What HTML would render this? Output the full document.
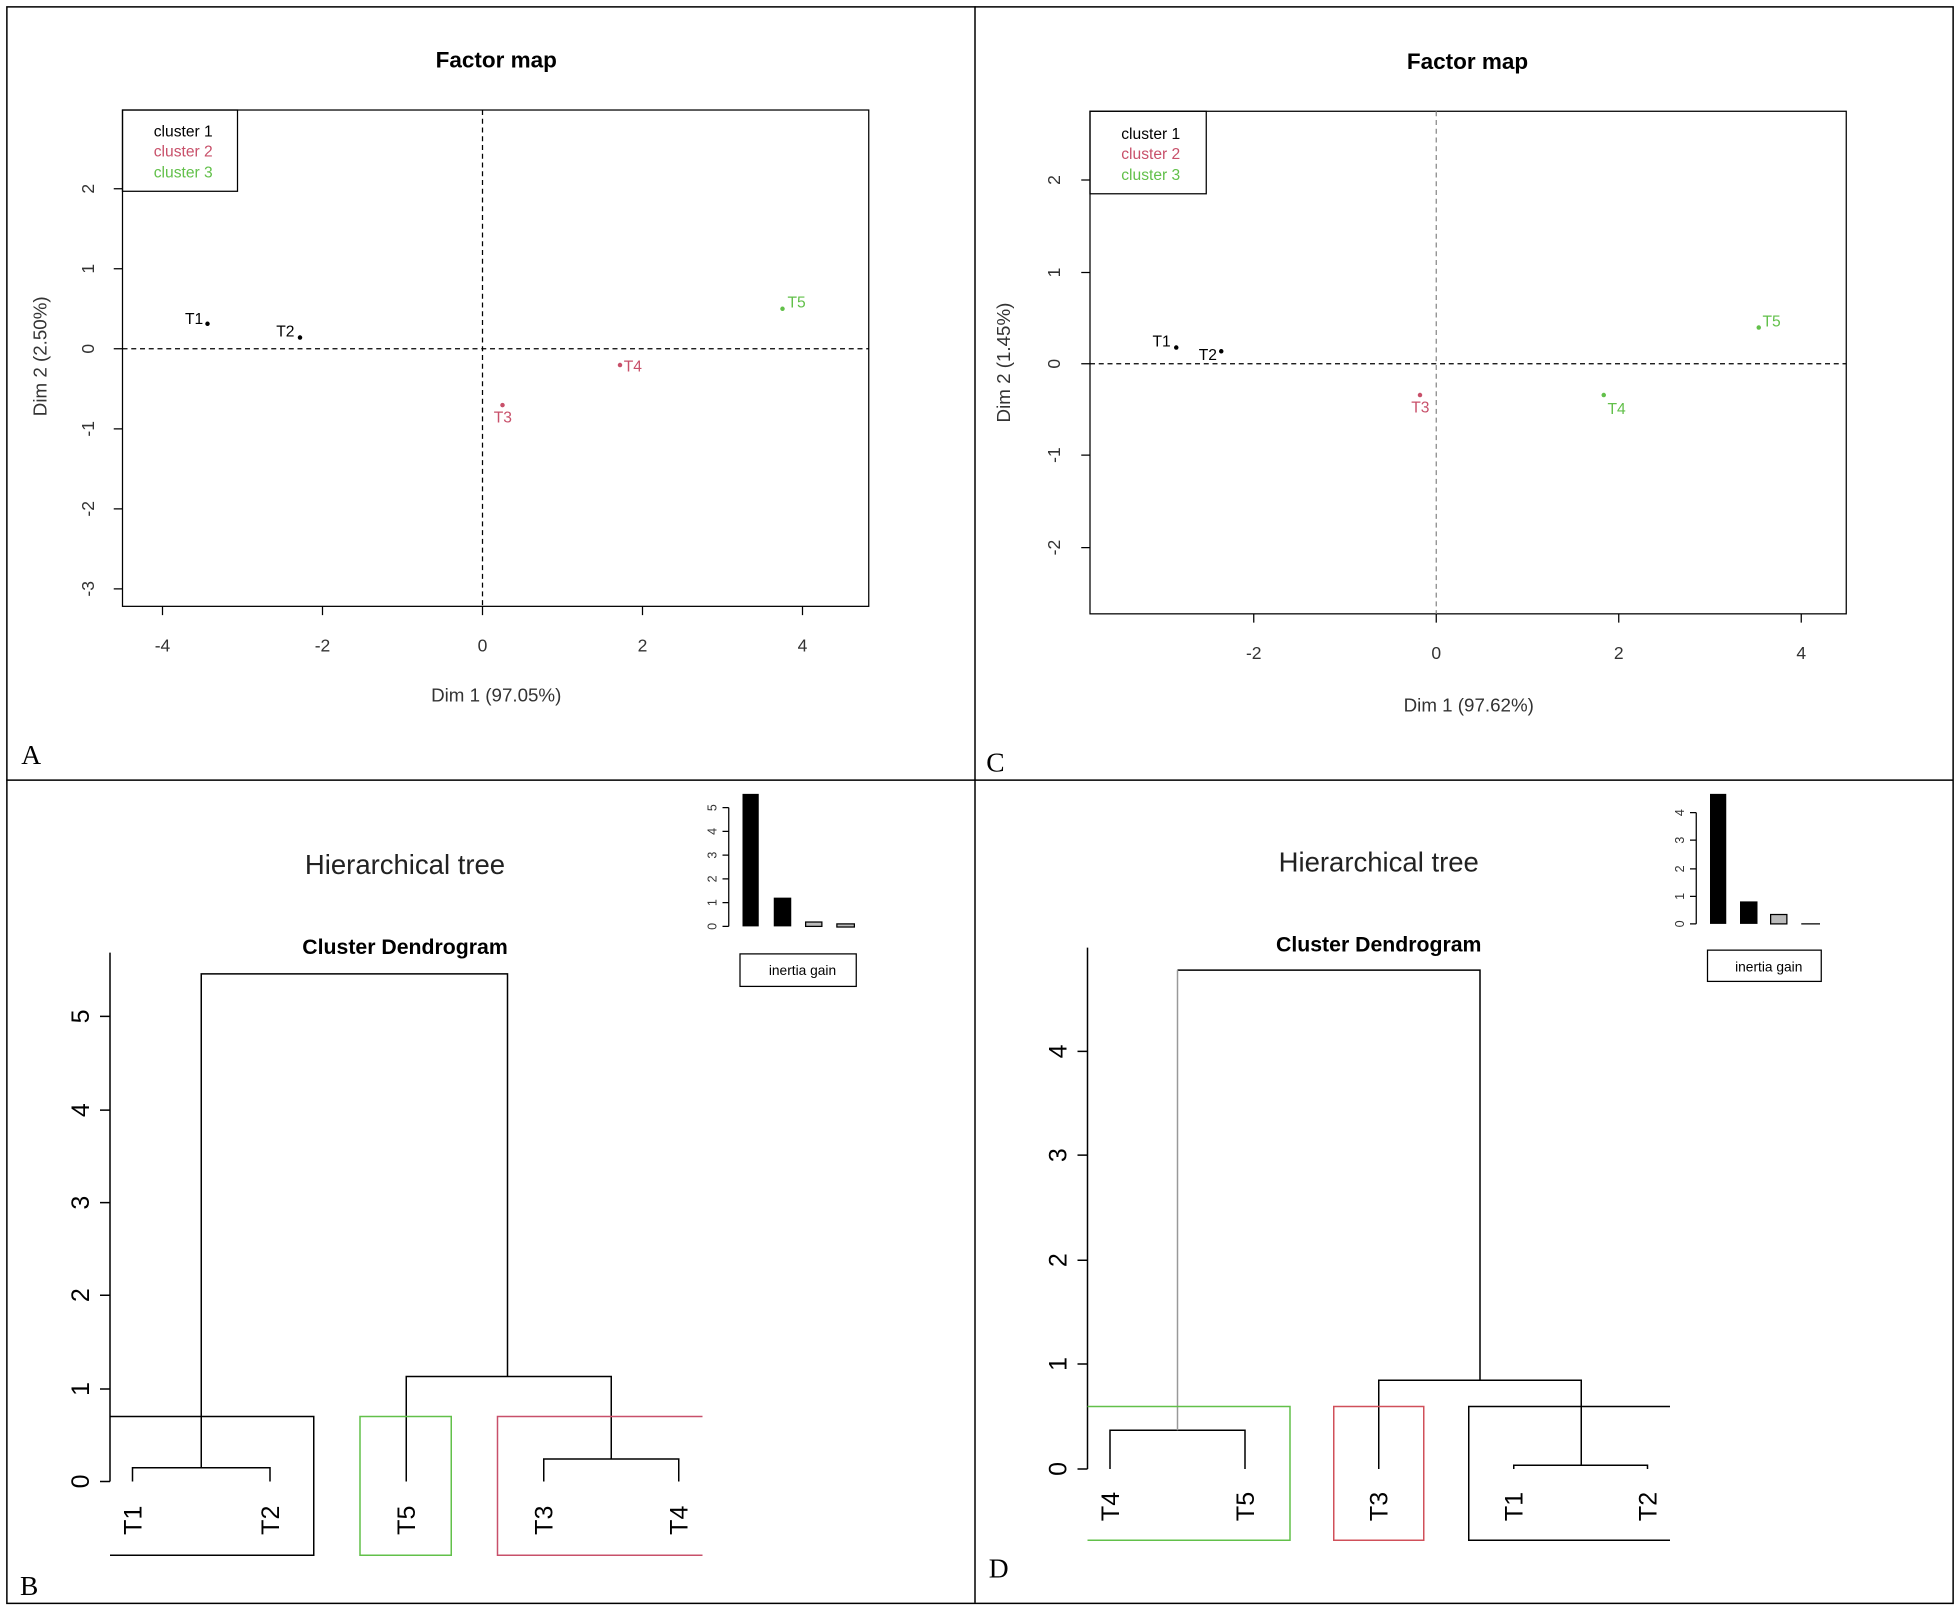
<!DOCTYPE html>
<html><head><style>html,body{margin:0;padding:0;background:#fff}svg{display:block}text{font-family:"Liberation Sans",sans-serif}</style></head>
<body>
<svg width="1960" height="1609" viewBox="0 0 1568 1287" preserveAspectRatio="none" xmlns="http://www.w3.org/2000/svg">
<rect x="0" y="0" width="1568" height="1287" fill="#fff"/>
<g fill="none" stroke="#000" stroke-width="1.2">
<rect x="5.5" y="5.5" width="1557" height="1277"/>
<line x1="780" y1="5" x2="780" y2="1282"/>
<line x1="5" y1="624" x2="1562" y2="624"/>
</g>
<g font-size="22">
<text x="17" y="611" style="font-family:'Liberation Serif',serif">A</text><text x="789" y="617" style="font-family:'Liberation Serif',serif">C</text><text x="16" y="1276" style="font-family:'Liberation Serif',serif">B</text><text x="791" y="1262" style="font-family:'Liberation Serif',serif">D</text>
</g>

<!-- Panel A -->
<g stroke="#000" fill="none" stroke-width="1">
<rect x="98" y="88" width="597" height="397"/>
<line x1="386" y1="88" x2="386" y2="485" stroke-dasharray="4,3"/>
<line x1="98" y1="279" x2="695" y2="279" stroke-dasharray="4,3"/>
<path d="M130 485v7M258 485v7M386 485v7M514 485v7M642 485v7M98 151h-7M98 215h-7M98 279h-7M98 343h-7M98 407h-7M98 471h-7"/>
<rect x="98" y="88" width="92" height="65"/>
</g>
<g font-size="14" fill="#333" text-anchor="middle">
<text x="130" y="521">-4</text><text x="258" y="521">-2</text><text x="386" y="521">0</text><text x="514" y="521">2</text><text x="642" y="521">4</text>
<text transform="translate(75 151) rotate(-90)">2</text><text transform="translate(75 215) rotate(-90)">1</text><text transform="translate(75 279) rotate(-90)">0</text><text transform="translate(75 343) rotate(-90)">-1</text><text transform="translate(75 407) rotate(-90)">-2</text><text transform="translate(75 471) rotate(-90)">-3</text>
<text x="397" y="54" font-weight="bold" font-size="18" fill="#000">Factor map</text>
<text x="397" y="561" font-size="15">Dim 1 (97.05%)</text>
<text transform="translate(37 285) rotate(-90)" font-size="15">Dim 2 (2.50%)</text>
</g>
<g font-size="12.5">
<text x="123" y="109" fill="#000">cluster 1</text><text x="123" y="125" fill="#c8506a">cluster 2</text><text x="123" y="142" fill="#62c04a">cluster 3</text>
</g>
<g font-size="12.5">
<circle cx="166" cy="259" r="1.8"/><text x="148" y="259">T1</text>
<circle cx="240" cy="270" r="1.8"/><text x="221" y="269">T2</text>
<circle cx="402" cy="324" r="1.8" fill="#c8506a"/><text x="395" y="338" fill="#c8506a">T3</text>
<circle cx="496" cy="292" r="1.8" fill="#c8506a"/><text x="499" y="297" fill="#c8506a">T4</text>
<circle cx="626" cy="247" r="1.8" fill="#62c04a"/><text x="630" y="246" fill="#62c04a">T5</text>
</g>

<!-- Panel C -->
<g stroke="#000" fill="none" stroke-width="1">
<rect x="872" y="89" width="605" height="402"/>
<line x1="1149" y1="89" x2="1149" y2="491" stroke-dasharray="4,3" stroke="#888"/>
<line x1="872" y1="291" x2="1477" y2="291" stroke-dasharray="4,3"/>
<path d="M1003 491v7M1149 491v7M1295 491v7M1441 491v7M872 144h-7M872 218h-7M872 291h-7M872 364h-7M872 438h-7"/>
<rect x="872" y="89" width="93" height="66"/>
</g>
<g font-size="14" fill="#333" text-anchor="middle">
<text x="1003" y="527">-2</text><text x="1149" y="527">0</text><text x="1295" y="527">2</text><text x="1441" y="527">4</text>
<text transform="translate(848 144) rotate(-90)">2</text><text transform="translate(848 218) rotate(-90)">1</text><text transform="translate(848 291) rotate(-90)">0</text><text transform="translate(848 364) rotate(-90)">-1</text><text transform="translate(848 438) rotate(-90)">-2</text>
<text x="1174" y="55" font-weight="bold" font-size="18" fill="#000">Factor map</text>
<text x="1175" y="569" font-size="15">Dim 1 (97.62%)</text>
<text transform="translate(808 290) rotate(-90)" font-size="15">Dim 2 (1.45%)</text>
</g>
<g font-size="12.5">
<text x="897" y="111" fill="#000">cluster 1</text><text x="897" y="127" fill="#c8506a">cluster 2</text><text x="897" y="144" fill="#62c04a">cluster 3</text>
</g>
<g font-size="12.5">
<circle cx="941" cy="278" r="1.8"/><text x="922" y="277">T1</text>
<circle cx="977" cy="281" r="1.8"/><text x="959" y="288">T2</text>
<circle cx="1136" cy="316" r="1.8" fill="#c8506a"/><text x="1129" y="330" fill="#c8506a">T3</text>
<circle cx="1283" cy="316" r="1.8" fill="#62c04a"/><text x="1286" y="331" fill="#62c04a">T4</text>
<circle cx="1407" cy="262" r="1.8" fill="#62c04a"/><text x="1410" y="261" fill="#62c04a">T5</text>
</g>

<!-- Panel B -->
<text x="324" y="699" font-size="22" text-anchor="middle" fill="#222">Hierarchical tree</text>
<text x="324" y="763" font-size="17" font-weight="bold" text-anchor="middle">Cluster Dendrogram</text>
<g stroke="#000" stroke-width="1" fill="none">
<path d="M583 741V646M583 741h-5M583 722h-5M583 703h-5M583 684h-5M583 665h-5M583 646h-5"/>
<rect x="592" y="763" width="93" height="26"/>
</g>
<rect x="594" y="635" width="13" height="106" fill="#000"/>
<rect x="619" y="718" width="14" height="23" fill="#000"/>
<rect x="644.5" y="737.5" width="13" height="3.5" fill="#bbb" stroke="#000"/>
<rect x="669.5" y="739" width="14" height="2.5" fill="#bbb" stroke="#000"/>
<g font-size="10" text-anchor="middle" fill="#333">
<text transform="translate(573 741) rotate(-90)">0</text><text transform="translate(573 722) rotate(-90)">1</text><text transform="translate(573 703) rotate(-90)">2</text><text transform="translate(573 684) rotate(-90)">3</text><text transform="translate(573 665) rotate(-90)">4</text><text transform="translate(573 646) rotate(-90)">5</text>
</g>
<text x="642" y="780" font-size="11" text-anchor="middle">inertia gain</text>
<g stroke="#000" stroke-width="1.2" fill="none">
<path d="M88 762V1185M88 1185h-8M88 1111h-8M88 1036h-8M88 962h-8M88 888h-8M88 813h-8"/>
<path d="M106 1185V1174H216V1185M435 1185V1167H543V1185M325 1185V1101H489V1167M161 1174V779H406V1101"/>
<path d="M88 1133H251V1244H88"/>
</g>
<path d="M288 1133H361V1244H288Z" fill="none" stroke="#62c04a" stroke-width="1.2"/>
<path d="M562 1133H398V1244H562" fill="none" stroke="#c8506a" stroke-width="1.2"/>
<g font-size="20" text-anchor="middle">
<text transform="translate(71 1185) rotate(-90)">0</text><text transform="translate(71 1111) rotate(-90)">1</text><text transform="translate(71 1036) rotate(-90)">2</text><text transform="translate(71 962) rotate(-90)">3</text><text transform="translate(71 888) rotate(-90)">4</text><text transform="translate(71 813) rotate(-90)">5</text>
<text transform="translate(113 1216) rotate(-90)">T1</text><text transform="translate(223 1216) rotate(-90)">T2</text><text transform="translate(332 1216) rotate(-90)">T5</text><text transform="translate(442 1216) rotate(-90)">T3</text><text transform="translate(550 1216) rotate(-90)">T4</text>
</g>

<!-- Panel D -->
<text x="1103" y="697" font-size="22" text-anchor="middle" fill="#222">Hierarchical tree</text>
<text x="1103" y="761" font-size="17" font-weight="bold" text-anchor="middle">Cluster Dendrogram</text>
<g stroke="#000" stroke-width="1" fill="none">
<path d="M1357 739V650M1357 739h-5M1357 717h-5M1357 695h-5M1357 672h-5M1357 650h-5"/>
<rect x="1366" y="760" width="91" height="25"/>
</g>
<rect x="1368" y="635" width="13" height="104" fill="#000"/>
<rect x="1392" y="721" width="14" height="18" fill="#000"/>
<rect x="1416.5" y="731.5" width="13" height="7.5" fill="#bbb" stroke="#000"/>
<line x1="1441" y1="739" x2="1456" y2="739" stroke="#000"/>
<g font-size="10" text-anchor="middle" fill="#333">
<text transform="translate(1347 739) rotate(-90)">0</text><text transform="translate(1347 717) rotate(-90)">1</text><text transform="translate(1347 695) rotate(-90)">2</text><text transform="translate(1347 672) rotate(-90)">3</text><text transform="translate(1347 650) rotate(-90)">4</text>
</g>
<text x="1415" y="777" font-size="11" text-anchor="middle">inertia gain</text>
<g stroke="#000" stroke-width="1.2" fill="none">
<path d="M870 758V1175M870 1175h-8M870 1091h-8M870 1008h-8M870 924h-8M870 841h-8"/>
<path d="M888 1175V1144H996V1175M1211 1175V1172H1318V1175M1103 1175V1104H1265V1172M942 776H1184V1104"/>
<path d="M1336 1125H1175V1232H1336"/>
</g>
<line x1="942" y1="776" x2="942" y2="1144" stroke="#999" stroke-width="1.2"/>
<path d="M870 1125H1032V1232H870" fill="none" stroke="#62c04a" stroke-width="1.2"/>
<path d="M1067 1125H1139V1232H1067Z" fill="none" stroke="#d0505a" stroke-width="1.2"/>
<g font-size="20" text-anchor="middle">
<text transform="translate(853 1175) rotate(-90)">0</text><text transform="translate(853 1091) rotate(-90)">1</text><text transform="translate(853 1008) rotate(-90)">2</text><text transform="translate(853 924) rotate(-90)">3</text><text transform="translate(853 841) rotate(-90)">4</text>
<text transform="translate(895 1205) rotate(-90)">T4</text><text transform="translate(1003 1205) rotate(-90)">T5</text><text transform="translate(1110 1205) rotate(-90)">T3</text><text transform="translate(1218 1205) rotate(-90)">T1</text><text transform="translate(1325 1205) rotate(-90)">T2</text>
</g>
</svg>
</body></html>
